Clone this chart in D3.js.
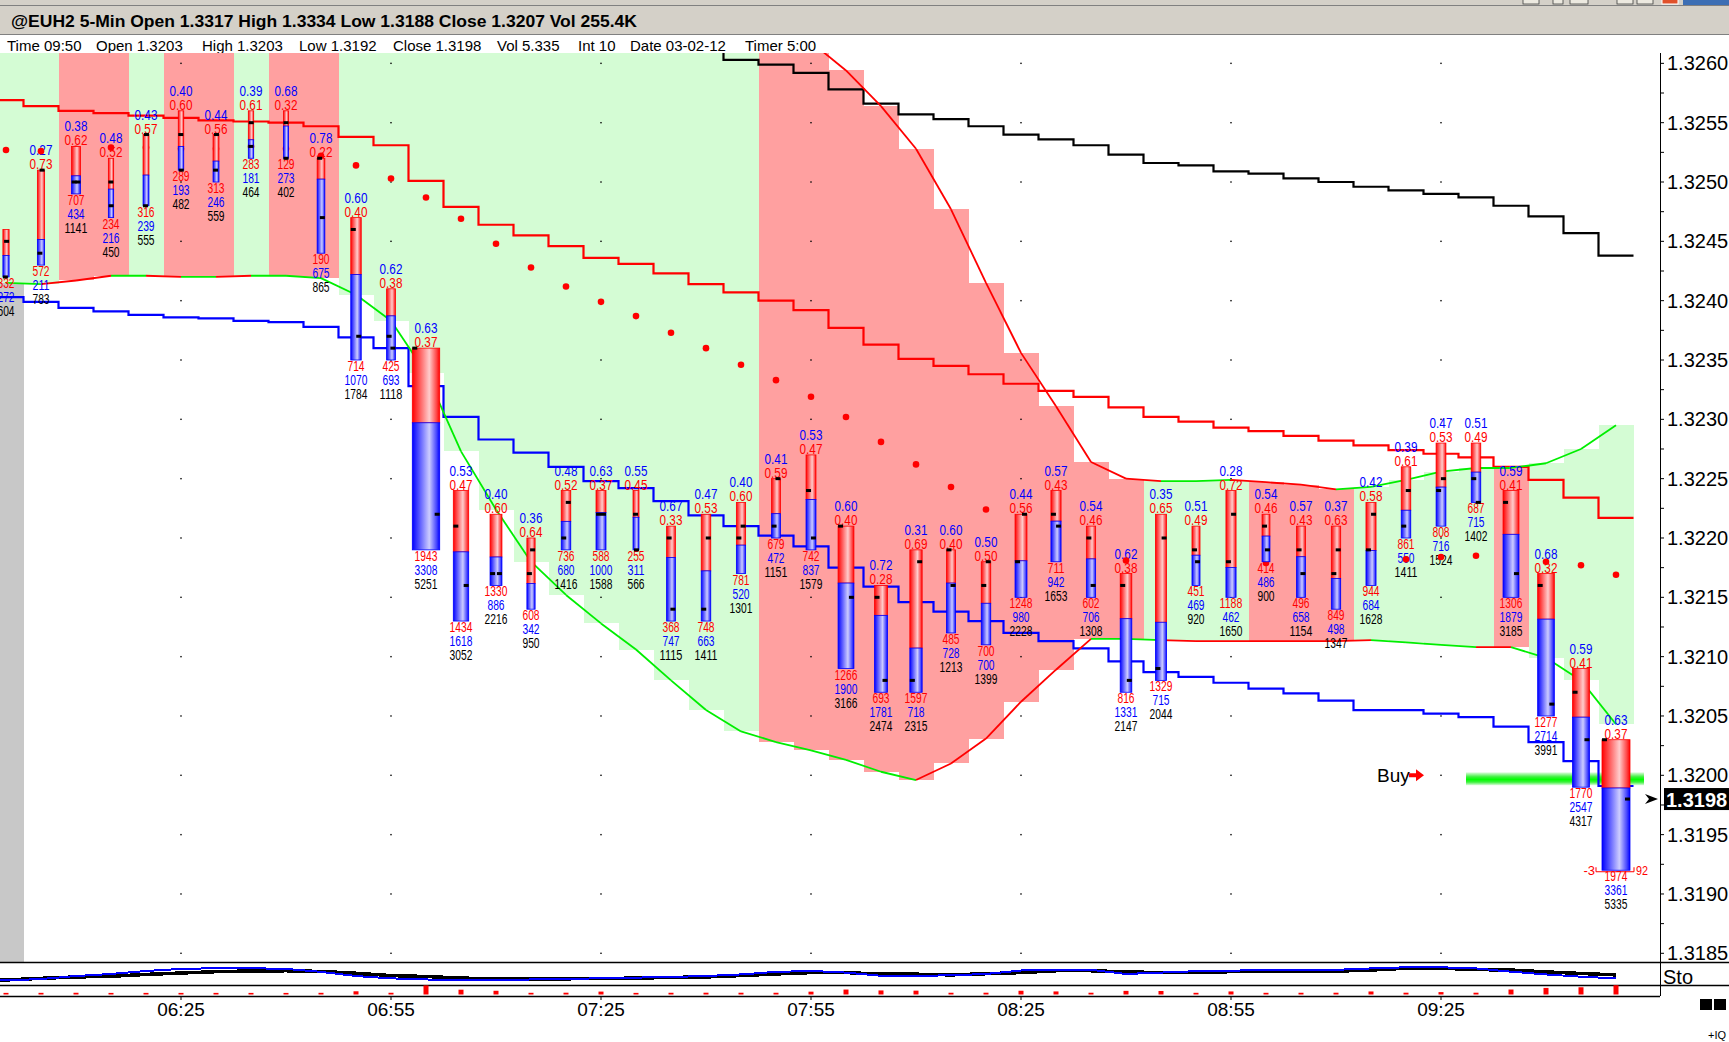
<!DOCTYPE html>
<html>
<head>
<meta charset="utf-8">
<script src="https://d3js.org/d3.v7.min.js"></script>
<style>
  html, body { margin: 0; padding: 0; background: #fff; overflow: hidden; }
  svg { display: block; font-family: "Liberation Sans", Arial, sans-serif; }
</style>
</head>
<body>
<svg id="chart" width="1729" height="1042"></svg>
<script>
const barTimes = ["06:00","06:05","06:10","06:15","06:20","06:25","06:30","06:35","06:40","06:45",
  "06:50","06:55","07:00","07:05","07:10","07:15","07:20","07:25","07:30","07:35",
  "07:40","07:45","07:50","07:55","08:00","08:05","08:10","08:15","08:20","08:25",
  "08:30","08:35","08:40","08:45","08:50","08:55","09:00","09:05","09:10","09:15",
  "09:20","09:25","09:30","09:35","09:40","09:45","09:50"];

const openPx  = [1.3242,1.3244,1.3250,1.3250,1.3248,1.3254,1.3251,1.3253,1.3255,1.3252,
  1.3246,1.3237,1.3236,1.3221,1.3217,1.3217,1.3220,1.3222,1.3222,1.3220,
  1.3214,1.3220,1.3221,1.3224,1.3221,1.3215,1.3208,1.3219,1.3216,1.3218,
  1.3222,1.3220,1.3216,1.3209,1.3219,1.3218,1.3221,1.3219,1.3217,1.3219,
  1.3221,1.3224,1.3225,1.3223,1.3216,1.3207,1.3203];
const highPx  = [1.3246,1.3251,1.3253,1.3252,1.3254,1.3256,1.3254,1.3256,1.3256,1.3252,
  1.3247,1.3241,1.3236,1.3224,1.3222,1.3220,1.3224,1.3224,1.3224,1.3221,
  1.3222,1.3223,1.3225,1.3227,1.3221,1.3216,1.3219,1.3219,1.3218,1.3222,
  1.3224,1.3221,1.3217,1.3222,1.3221,1.3224,1.3222,1.3221,1.3221,1.3223,
  1.3226,1.3228,1.3228,1.3224,1.3217,1.3209,1.3203];
const lowPx   = [1.3242,1.3243,1.3249,1.3247,1.3248,1.3251,1.3250,1.3252,1.3252,1.3244,
  1.3235,1.3235,1.3219,1.3213,1.3216,1.3214,1.3219,1.3219,1.3219,1.3213,
  1.3213,1.3217,1.3220,1.3219,1.3209,1.3207,1.3207,1.3212,1.3211,1.3215,
  1.3218,1.3215,1.3207,1.3208,1.3216,1.3215,1.3218,1.3215,1.3214,1.3216,
  1.3220,1.3221,1.3223,1.3215,1.3205,1.3199,1.3192];
const closePx = [1.3245,1.3251,1.3250,1.3248,1.3254,1.3251,1.3254,1.3255,1.3252,1.3247,
  1.3237,1.3236,1.3222,1.3216,1.3217,1.3219,1.3223,1.3222,1.3219,1.3214,
  1.3220,1.3221,1.3225,1.3220,1.3215,1.3208,1.3218,1.3216,1.3218,1.3222,
  1.3221,1.3216,1.3208,1.3220,1.3218,1.3222,1.3219,1.3217,1.3219,1.3222,
  1.3224,1.3225,1.3223,1.3217,1.3206,1.3203,1.3198];

const sellVol  = [332,572,707,234,316,289,313,283,129,190,714,425,1943,1434,1330,608,736,588,255,368,
  748,781,679,742,1266,693,1597,485,700,1248,711,602,816,1329,451,1188,414,496,849,944,
  861,808,687,1306,1277,1770,1974];
const buyVol   = [272,211,434,216,239,193,246,181,273,675,1070,693,3308,1618,886,342,680,1000,311,747,
  663,520,472,837,1900,1781,718,728,700,980,942,706,1331,715,469,462,486,658,498,684,
  550,716,715,1879,2714,2547,3361];
const totalVol = [604,783,1141,450,555,482,559,464,402,865,1784,1118,5251,3052,2216,950,1416,1588,566,1115,
  1411,1301,1151,1579,3166,2474,2315,1213,1399,2228,1653,1308,2147,2044,920,1650,900,1154,1347,1628,
  1411,1524,1402,3185,3991,4317,5335];

const sarDots = [1.32527,1.32526,1.32528,1.32529,1.32529,1.32528,1.32528,1.32530,1.32528,1.32522,
  1.32514,1.32503,1.32487,1.32469,1.32448,1.32428,1.32412,1.32399,1.32387,1.32373,
  1.32360,1.32346,1.32333,1.32319,1.32302,1.32281,1.32262,1.32243,1.32224,1.32207,
  1.32190,1.32173,1.32181,1.32181,1.32181,1.32181,1.32179,1.32181,1.32181,1.32181,
  1.32182,1.32184,1.32185,1.32183,1.32180,1.32177,1.32169];

const midLine = [1.32569,1.32564,1.32560,1.32558,1.32556,1.32554,1.32552,1.32551,1.32550,1.32547,
  1.32538,1.32531,1.32501,1.32479,1.32464,1.32455,1.32446,1.32436,1.32431,1.32423,
  1.32414,1.32407,1.32400,1.32392,1.32377,1.32363,1.32351,1.32345,1.32338,1.32330,
  1.32324,1.32319,1.32310,1.32302,1.32298,1.32293,1.32290,1.32286,1.32282,1.32278,
  1.32274,1.32271,1.32268,1.32260,1.32249,1.32234,1.32217];
const lowerBand = [1.32403,1.32399,1.32394,1.32391,1.32388,1.32386,1.32385,1.32383,1.32382,1.32378,
  1.32369,1.32360,1.32328,1.32302,1.32283,1.32272,1.32260,1.32248,1.32242,1.32231,
  1.32219,1.32210,1.32202,1.32193,1.32175,1.32159,1.32146,1.32138,1.32130,1.32120,
  1.32113,1.32107,1.32096,1.32087,1.32083,1.32078,1.32073,1.32069,1.32063,1.32055,
  1.32055,1.32052,1.32049,1.32041,1.32028,1.32012,1.31991];
const upperBand = [1.32700,1.32698,1.32695,1.32692,1.32690,1.32687,1.32684,1.32680,1.32677,1.32674,
  1.32670,1.32666,1.32660,1.32654,1.32648,1.32640,1.32633,1.32626,1.32620,1.32615,
  1.32610,1.32603,1.32599,1.32592,1.32578,1.32566,1.32557,1.32553,1.32547,1.32540,
  1.32536,1.32531,1.32523,1.32516,1.32514,1.32509,1.32507,1.32503,1.32500,1.32496,
  1.32493,1.32490,1.32487,1.32480,1.32471,1.32457,1.32438];

// cloud edges (leading spans)
const spanTop = [1.32760,1.32755,1.32752,1.32750,1.32746,1.32742,1.32738,1.32735,1.32731,1.32727,
  1.32722,1.32718,1.32713,1.32708,1.32703,1.32698,1.32690,1.32682,1.32672,1.32660,
  1.32652,1.32643,1.32632,1.32618,1.32594,1.32564,1.32528,1.32477,1.32415,1.32356,
  1.32311,1.32264,1.32250,1.32248,1.32248,1.32249,1.32247,1.32245,1.32241,1.32243,
  1.32249,1.32256,1.32259,1.32259,1.32263,1.32275,1.32295];
const spanBottom = [1.32415,1.32414,1.32417,1.32421,1.32421,1.32420,1.32420,1.32421,1.32421,1.32419,
  1.32405,1.32383,1.32339,1.32273,1.32224,1.32180,1.32152,1.32128,1.32106,1.32080,
  1.32055,1.32037,1.32028,1.32021,1.32013,1.32003,1.31996,1.32010,1.32031,1.32062,
  1.32089,1.32115,1.32115,1.32114,1.32113,1.32113,1.32113,1.32113,1.32113,1.32114,
  1.32112,1.32110,1.32108,1.32108,1.32099,1.32080,1.32043];
// 1 = bullish (green), 0 = bearish (red)
const cloudBull = [1,1,0,0,1,0,0,1,0,0, 1,1,1,1,1,1,1,1,1,1, 1,1,0,0,0,0,0,0,0,0,
  0,0,0,1,1,1,0,0,0,1, 1,1,1,0,1,1,1];
const spanTopBull = [0,0,0,0,0,0,0,0,0,0, 0,0,0,0,0,0,0,0,0,0, 0,0,0,0,0,0,0,0,0,0,
  0,0,0,0,1,1,0,0,0,1, 1,1,1,1,1,1,1];
const spanBottomBull = [1,1,0,0,1,0,1,0,1,1, 1,1,1,1,1,1,1,1,1,1, 1,1,1,1,1,1,1,0,0,0,
  0,0,1,1,0,0,0,0,0,0, 1,1,1,0,1,1,1];

const stoFast = [20,26,39,48,61,70,73,73,70,57, 39,29,24,22,22,24,25,30,32,35,
  39,46,57,61,54,40,40,42,48,63, 66,66,48,54,60,62,66,66,66,72, 77,77,72,58,46,36,29];
const stoSlow = [22,29,35,38,46,52,58,61,62,59, 51,41,37,30,27,27,27,28,30,33,
  35,41,48,54,54,47,47,44,49,54, 62,62,57,54,54,58,60,60,60,65, 73,73,67,65,57,50,44];

const priceTicks = [1.3185,1.3190,1.3195,1.3200,1.3205,1.3210,1.3215,1.3220,1.3225,1.3230,1.3235,1.3240,1.3245,1.3250,1.3255,1.3260];
const timeTicks = ["06:25","06:55","07:25","07:55","08:25","08:55","09:25"];

const titleText = "@EUH2 5-Min Open 1.3317 High 1.3334 Low 1.3188 Close 1.3207 Vol 255.4K";
const infoItems = ["Time 09:50","Open 1.3203","High 1.3203","Low 1.3192","Close 1.3198","Vol 5.335","Int 10","Date 03-02-12","Timer 5:00"];
const infoX = [7, 96, 202, 299, 393, 497, 578, 630, 745];
const lastPrice = 1.3198;
const buyLevel = 1.3200;

// ---- layout ----
const W = 1729, H = 1042;
const plot = {left: 0, right: 1660, top: 53, bottom: 962};
const sto = {top: 962, bottom: 985};
const volStrip = {top: 985, bottom: 996};
const slot = 35;
const last = barTimes.length - 1;

const x = d3.scaleLinear().domain([0, last]).range([6, 6 + slot * last]);
const y = d3.scaleLinear().domain([1.3185, 1.3260]).range([953.3, 63.35]);
const ySto = d3.scaleLinear().domain([0, 100]).range([sto.bottom, sto.top]);
const volH = d3.scaleLinear().domain([0, 1450, 1600, 2200, 3200, 5300]).range([1.5, 1.8, 3, 3.7, 5, 9.2]);
const barW = d3.scaleLinear().domain([400, 1000, 2000, 3200, 4400, 5300]).range([5, 8.5, 11, 16, 17, 28]).clamp(true);

const RED = "#ff0000", BLUE = "#0000ff", GREEN = "#00ee00";

const svg = d3.select("#chart");
const defs = svg.append("defs");

defs.append("clipPath").attr("id", "plotClip").append("rect")
  .attr("x", plot.left).attr("y", plot.top).attr("width", plot.right - plot.left).attr("height", plot.bottom - plot.top);
defs.append("clipPath").attr("id", "stoClip").append("rect")
  .attr("x", 0).attr("y", sto.top + 1).attr("width", plot.right).attr("height", sto.bottom - sto.top - 2);

function hGrad(id, stops) {
  const g = defs.append("linearGradient").attr("id", id).attr("x1", 0).attr("x2", 1).attr("y1", 0).attr("y2", 0);
  stops.forEach(s => g.append("stop").attr("offset", s[0]).attr("stop-color", s[1]));
}
hGrad("gRed", [[0, "#ff0000"], [0.12, "#ff2a2a"], [0.62, "#ffcccc"], [0.88, "#ff4a4a"], [1, "#ff0000"]]);
hGrad("gBlue", [[0, "#0000ff"], [0.12, "#2a2aff"], [0.62, "#ccccff"], [0.88, "#4a4aff"], [1, "#0000ff"]]);
const glow = defs.append("linearGradient").attr("id", "gGlow").attr("x1", 0).attr("x2", 0).attr("y1", 0).attr("y2", 1);
[[0, "#e0fbe0"], [0.35, "#3cf03c"], [0.55, "#00ff00"], [0.75, "#3cf03c"], [1, "#e0fbe0"]]
  .forEach(s => glow.append("stop").attr("offset", s[0]).attr("stop-color", s[1]));

svg.append("rect").attr("width", W).attr("height", H).attr("fill", "#fff");

// ---- window title strip ----
const titleG = svg.append("g");
titleG.append("rect").attr("width", W).attr("height", 35).attr("fill", "#d4d0c8");
titleG.append("line").attr("x1", 0).attr("x2", W).attr("y1", 5.5).attr("y2", 5.5).attr("stroke", "#808080");
titleG.append("line").attr("x1", 0).attr("x2", W).attr("y1", 34.5).attr("y2", 34.5).attr("stroke", "#808080");
titleG.append("rect").attr("x", 1683).attr("y", 0).attr("width", 46).attr("height", 5).attr("fill", "#3c6eb4");
[[1523, 16], [1553, 10], [1570, 18], [1617, 16], [1637, 16]].forEach(b =>
  titleG.append("rect").attr("x", b[0]).attr("y", -1).attr("width", b[1]).attr("height", 5)
    .attr("fill", "#ece9e0").attr("stroke", "#404040").attr("stroke-width", 0.8));
titleG.append("rect").attr("x", 1662).attr("y", -1).attr("width", 16).attr("height", 5).attr("fill", "#e0502a").attr("stroke", "#fff");
titleG.append("text").attr("x", 11).attr("y", 26.5).attr("font-size", 17).attr("font-weight", "bold").attr("fill", "#000")
  .attr("textLength", 626).attr("lengthAdjust", "spacingAndGlyphs").text(titleText);

// info line
svg.append("g").selectAll("text").data(infoItems).join("text")
  .attr("x", (d, i) => infoX[i]).attr("y", 51).attr("font-size", 15).attr("fill", "#000").text(d => d);

// ---- price panel ----
const pg = svg.append("g").attr("clip-path", "url(#plotClip)");
pg.append("rect").attr("x", 0).attr("y", plot.top).attr("width", 24).attr("height", plot.bottom - plot.top).attr("fill", "#c8c8c8");

// cloud, one slot per bar
pg.append("g").selectAll("rect").data(barTimes).join("rect")
  .attr("x", (d, i) => x(i) - slot / 2)
  .attr("width", slot)
  .attr("y", (d, i) => y(Math.max(spanTop[i], spanBottom[i])))
  .attr("height", (d, i) => Math.abs(y(spanTop[i]) - y(spanBottom[i])))
  .attr("fill", (d, i) => cloudBull[i] ? "#d4fcd4" : "#ffa0a0")
  .attr("shape-rendering", "crispEdges");

// grid dots
const gridG = pg.append("g");
timeTicks.forEach(t => {
  const gx = x(barTimes.indexOf(t));
  priceTicks.forEach(p => gridG.append("rect").attr("x", gx - 0.7).attr("y", y(p) - 0.7).attr("width", 1.4).attr("height", 1.4).attr("fill", "#000"));
});

// buy level glow
pg.append("rect").attr("x", 1466).attr("y", y(buyLevel) - 3).attr("width", 178).attr("height", 13).attr("fill", "url(#gGlow)");

// stepped lines: one flat segment per bar slot
const stepLine = d3.line().x(d => d[0]).y(d => d[1]).curve(d3.curveStepAfter);
function slotPoints(vals) {
  const pts = vals.map((v, i) => [x(i) - slot / 2, y(v)]);
  pts.push([x(last) + slot / 2, y(vals[last])]);
  return pts;
}
pg.append("path").attr("d", stepLine(slotPoints(midLine))).attr("fill", "none").attr("stroke", RED).attr("stroke-width", 2.2);
pg.append("path").attr("d", stepLine(slotPoints(lowerBand))).attr("fill", "none").attr("stroke", BLUE).attr("stroke-width", 2.2);
pg.append("path").attr("d", stepLine(slotPoints(upperBand))).attr("fill", "none").attr("stroke", "#000").attr("stroke-width", 2.2);

// cloud edge lines, coloured segment by segment
const seg = d3.line();
function spanLine(vals, flags) {
  for (let i = 1; i <= last; i++) {
    pg.append("path").attr("d", seg([[x(i - 1), y(vals[i - 1])], [x(i), y(vals[i])]]))
      .attr("fill", "none").attr("stroke", flags[i] ? GREEN : RED).attr("stroke-width", 1.8);
  }
}
spanLine(spanTop, spanTopBull);
spanLine(spanBottom, spanBottomBull);

// labels above / below bars
const fmt2 = d3.format(".2f");
const labelG = pg.append("g").attr("font-size", 14);
function label(xc, yb, s, color) {
  labelG.append("text").attr("x", xc).attr("y", yb).attr("text-anchor", "middle")
    .attr("textLength", s.length * 5.7).attr("lengthAdjust", "spacingAndGlyphs")
    .attr("fill", color).text(s);
}
barTimes.forEach((t, i) => {
  const xc = x(i), yH = y(highPx[i]), yL = y(lowPx[i]);
  if (i > 0) { // first bar is partial: no ratio pair drawn
    const b = fmt2(buyVol[i] / totalVol[i]);
    label(xc, yH - 15, b, BLUE);
    label(xc, yH - 1, fmt2(1 - +b), RED);
  }
  label(xc, yL + 11, String(sellVol[i]), RED);
  label(xc, yL + 25, String(buyVol[i]), BLUE);
  label(xc, yL + 39, String(totalVol[i]), "#000");
});

// dots
pg.append("g").selectAll("circle").data(sarDots).join("circle")
  .attr("cx", (d, i) => x(i)).attr("cy", d => y(d)).attr("r", 3.3).attr("fill", RED);

// bars: sell share on top (red), buy share below (blue), open/close ticks
const barG = pg.append("g");
barTimes.forEach((t, i) => {
  const w = barW(totalVol[i]);
  const xl = x(i) - w / 2, yH = y(highPx[i]), yL = y(lowPx[i]);
  const ySplit = yH + (yL - yH) * sellVol[i] / totalVol[i];
  barG.append("rect").attr("x", xl).attr("y", yH).attr("width", w).attr("height", ySplit - yH)
    .attr("fill", "url(#gRed)").attr("stroke", RED).attr("stroke-width", 0.8);
  barG.append("rect").attr("x", xl).attr("y", ySplit).attr("width", w).attr("height", yL - ySplit)
    .attr("fill", "url(#gBlue)").attr("stroke", BLUE).attr("stroke-width", 0.8);
  const tw = Math.min(5, w);
  barG.append("rect").attr("x", xl).attr("y", y(openPx[i]) - 1.5).attr("width", tw).attr("height", 3).attr("fill", "#000");
  barG.append("rect").attr("x", xl + w - tw).attr("y", y(closePx[i]) - 1.5).attr("width", tw).attr("height", 3).attr("fill", "#000");
});

// low marker on the live bar
const ly = y(lowPx[last]);
pg.append("path").attr("d", `M1596,${ly - 3}V${ly + 1.5}H1634V${ly - 3}`).attr("fill", "none").attr("stroke", RED).attr("stroke-width", 1);
pg.append("text").attr("x", 1595).attr("y", ly + 5).attr("text-anchor", "end").attr("font-size", 13).attr("fill", RED).text("-3");
pg.append("text").attr("x", 1636).attr("y", ly + 5).attr("font-size", 13).attr("fill", RED)
  .attr("textLength", 12).attr("lengthAdjust", "spacingAndGlyphs").text("92");

// buy signal
const by = y(buyLevel);
pg.append("text").attr("x", 1377).attr("y", by + 7).attr("font-size", 19).attr("fill", "#000").text("Buy");
pg.append("path").attr("d", `M1409,${by - 2}H1416V${by - 6}L1424,${by}L1416,${by + 6}V${by + 2}H1409Z`).attr("fill", RED);

// ---- right price axis ----
const ax = svg.append("g");
ax.append("line").attr("x1", plot.right + 0.5).attr("x2", plot.right + 0.5).attr("y1", plot.top).attr("y2", volStrip.bottom).attr("stroke", "#000");
const minor = d3.pairs(priceTicks).map(p => (p[0] + p[1]) / 2);
priceTicks.concat(minor).forEach(p =>
  ax.append("line").attr("x1", plot.right).attr("x2", plot.right + 4).attr("y1", y(p)).attr("y2", y(p)).attr("stroke", "#000"));
ax.selectAll("text.pt").data(priceTicks).join("text").attr("class", "pt")
  .attr("x", 1667).attr("y", d => y(d) + 7).attr("font-size", 20).attr("fill", "#000").text(d => d.toFixed(4));
const lpy = y(lastPrice);
ax.append("rect").attr("x", 1664).attr("y", lpy - 11).attr("width", 65).attr("height", 22).attr("fill", "#000");
ax.append("text").attr("x", 1666).attr("y", lpy + 7.5).attr("font-size", 20).attr("font-weight", "bold").attr("fill", "#fff").text(lastPrice.toFixed(4));
ax.append("path").attr("d", `M1645,${lpy - 5}L1658,${lpy}L1645,${lpy + 5}L1649,${lpy}Z`).attr("fill", "#000");

// ---- lower panels ----
const lp = svg.append("g");
lp.append("line").attr("x1", 0).attr("x2", W).attr("y1", plot.bottom + 0.5).attr("y2", plot.bottom + 0.5).attr("stroke", "#000").attr("stroke-width", 1.5);
lp.append("line").attr("x1", 0).attr("x2", W).attr("y1", sto.bottom + 0.5).attr("y2", sto.bottom + 0.5).attr("stroke", "#000").attr("stroke-width", 1.5);
lp.append("line").attr("x1", 0).attr("x2", plot.right).attr("y1", volStrip.bottom + 0.5).attr("y2", volStrip.bottom + 0.5).attr("stroke", "#000").attr("stroke-width", 1.5);

// oscillator: plain polylines drawn without anti-aliasing, like the terminal does
const stoLine = d3.line().x(d => d[0]).y(d => d[1]);
function stoPts(vals) { return [[0, ySto(vals[0])]].concat(vals.map((v, i) => [x(i), ySto(v)])); }
const sg = lp.append("g").attr("clip-path", "url(#stoClip)");
sg.append("path").attr("d", stoLine(stoPts(stoSlow))).attr("fill", "none").attr("stroke", "#000").attr("stroke-width", 3.5).attr("shape-rendering", "crispEdges");
sg.append("path").attr("d", stoLine(stoPts(stoFast))).attr("fill", "none").attr("stroke", BLUE).attr("stroke-width", 2).attr("shape-rendering", "crispEdges");
lp.append("text").attr("x", 1663).attr("y", 984).attr("font-size", 20).attr("fill", "#000").text("Sto");

lp.append("g").selectAll("rect").data(totalVol).join("rect")
  .attr("x", (d, i) => x(i) - 2.5).attr("width", 5)
  .attr("y", d => volStrip.bottom - 1.5 - volH(d)).attr("height", d => volH(d))
  .attr("fill", RED);

// time axis
timeTicks.forEach(t => {
  const tx = x(barTimes.indexOf(t));
  lp.append("line").attr("x1", tx).attr("x2", tx).attr("y1", volStrip.bottom).attr("y2", volStrip.bottom + 4).attr("stroke", "#000");
  lp.append("text").attr("x", tx).attr("y", 1016).attr("text-anchor", "middle").attr("font-size", 19).attr("fill", "#000").text(t);
});

// bottom-right corner marks
lp.append("rect").attr("x", 1700).attr("y", 999).attr("width", 12).attr("height", 11).attr("fill", "#000");
lp.append("rect").attr("x", 1714).attr("y", 999).attr("width", 12).attr("height", 11).attr("fill", "#000");
lp.append("text").attr("x", 1708).attr("y", 1039).attr("font-size", 11).attr("fill", "#000").text("+IQ");
</script>
</body>
</html>
